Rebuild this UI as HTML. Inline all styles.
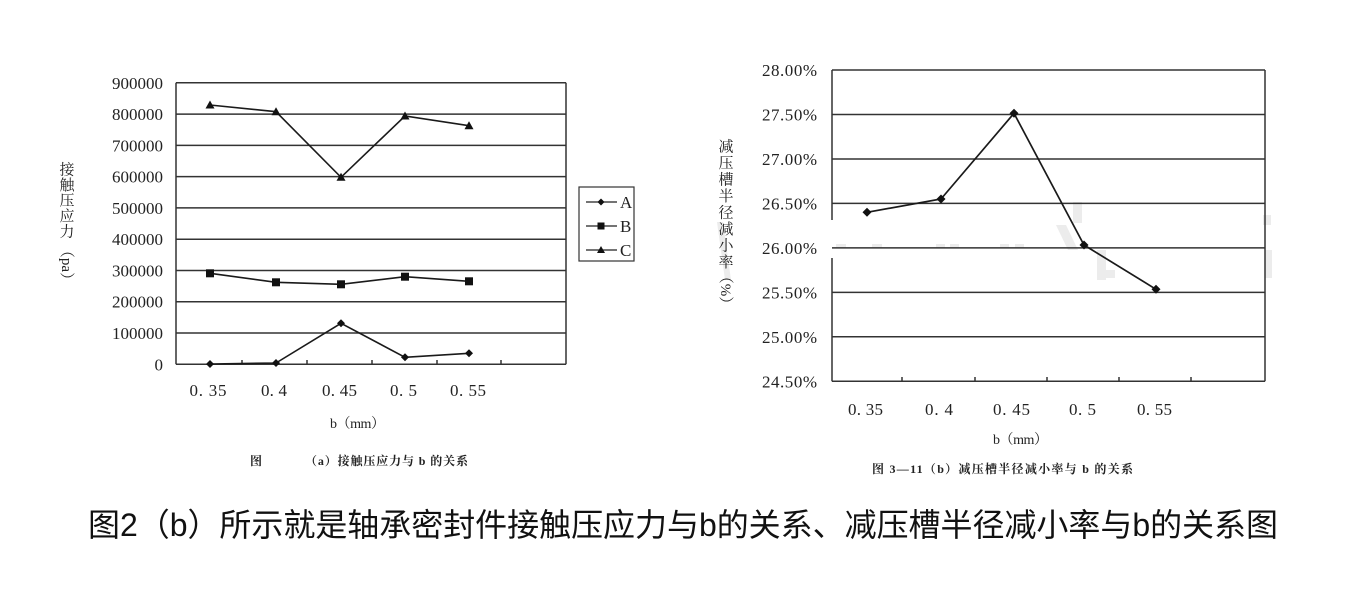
<!DOCTYPE html>
<html><head><meta charset="utf-8">
<style>
html,body{margin:0;padding:0;background:#fff;}
svg{display:block;}
.num{font-family:"Liberation Serif","Noto Serif CJK SC",serif;fill:#222;}
.cjk{font-family:"Liberation Serif","Noto Serif CJK SC",serif;fill:#222;}
</style></head>
<body>
<svg width="1365" height="590" viewBox="0 0 1365 590" xmlns="http://www.w3.org/2000/svg">
<rect width="1365" height="590" fill="#fff"/>

<!-- ================= LEFT CHART ================= -->
<g stroke="#333" stroke-width="1.5" fill="none">
  <line x1="176" y1="82.8" x2="566" y2="82.8"/>
  <line x1="176" y1="114.1" x2="566" y2="114.1"/>
  <line x1="176" y1="145.4" x2="566" y2="145.4"/>
  <line x1="176" y1="176.6" x2="566" y2="176.6"/>
  <line x1="176" y1="207.9" x2="566" y2="207.9"/>
  <line x1="176" y1="239.2" x2="566" y2="239.2"/>
  <line x1="176" y1="270.5" x2="566" y2="270.5"/>
  <line x1="176" y1="301.7" x2="566" y2="301.7"/>
  <line x1="176" y1="333" x2="566" y2="333"/>
  <line x1="176" y1="364.3" x2="566" y2="364.3"/>
  <line x1="176" y1="82.8" x2="176" y2="364.3"/>
  <line x1="566" y1="82.8" x2="566" y2="364.3"/>
  <line x1="242" y1="364" x2="242" y2="360"/>
  <line x1="307" y1="364" x2="307" y2="360"/>
  <line x1="372" y1="364" x2="372" y2="360"/>
  <line x1="437" y1="364" x2="437" y2="360"/>
  <line x1="501" y1="364" x2="501" y2="360"/>
</g>
<g stroke="#1a1a1a" stroke-width="1.6" fill="none">
  <polyline points="210,105 276,111.7 341,177.3 405,116 469,125.7"/>
  <polyline points="210,273.3 276,282.3 341,284.3 405,276.7 469,281.3"/>
  <polyline points="210,364 276,363 341,323.3 405,357.3 469,353.3"/>
</g>
<g fill="#111">
  <polygon points="210,100.5 214.5,108.5 205.5,108.5"/>
  <polygon points="276,107.2 280.5,115.2 271.5,115.2"/>
  <polygon points="341,172.8 345.5,180.8 336.5,180.8"/>
  <polygon points="405,111.5 409.5,119.5 400.5,119.5"/>
  <polygon points="469,121.2 473.5,129.2 464.5,129.2"/>
  <rect x="206" y="269.3" width="8" height="8"/>
  <rect x="272" y="278.3" width="8" height="8"/>
  <rect x="337" y="280.3" width="8" height="8"/>
  <rect x="401" y="272.7" width="8" height="8"/>
  <rect x="465" y="277.3" width="8" height="8"/>
  <polygon points="210,360 214,364 210,368 206,364"/>
  <polygon points="276,359 280,363 276,367 272,363"/>
  <polygon points="341,319.3 345,323.3 341,327.3 337,323.3"/>
  <polygon points="405,353.3 409,357.3 405,361.3 401,357.3"/>
  <polygon points="469,349.3 473,353.3 469,357.3 465,353.3"/>
</g>
<g class="num" font-size="17" text-anchor="end">
  <text x="163" y="88.8" textLength="51">900000</text>
  <text x="163" y="120.1" textLength="51">800000</text>
  <text x="163" y="151.4" textLength="51">700000</text>
  <text x="163" y="182.6" textLength="51">600000</text>
  <text x="163" y="213.9" textLength="51">500000</text>
  <text x="163" y="245.2" textLength="51">400000</text>
  <text x="163" y="276.5" textLength="51">300000</text>
  <text x="163" y="307.7" textLength="51">200000</text>
  <text x="163" y="339" textLength="51">100000</text>
  <text x="163" y="370.3">0</text>
</g>
<g class="num" font-size="17" text-anchor="middle">
  <text x="208" y="396" textLength="37">0. 35</text>
  <text x="274" y="396" textLength="26">0. 4</text>
  <text x="339.5" y="396" textLength="35">0. 45</text>
  <text x="403.5" y="396" textLength="27">0. 5</text>
  <text x="468" y="396" textLength="36">0. 55</text>
</g>
<g class="cjk" font-size="15" text-anchor="middle">
  <text x="67" y="174.5">接</text>
  <text x="67" y="190">触</text>
  <text x="67" y="205.5">压</text>
  <text x="67" y="221">应</text>
  <text x="67" y="236.5">力</text>
  <text transform="translate(62,265) rotate(90)" x="0" y="0" font-size="15">（pa）</text>
</g>
<text class="cjk" x="330" y="428" font-size="14" textLength="55">b（mm）</text>
<text class="cjk" x="250" y="465" font-size="12" font-weight="bold">图</text>
<text class="cjk" x="305" y="465" font-size="12" font-weight="bold" textLength="163">（a）接触压应力与 b 的关系</text>
<rect x="579" y="187" width="55" height="74" fill="#fff" stroke="#333" stroke-width="1.2"/>
<g stroke="#222" stroke-width="1.3">
  <line x1="586" y1="202" x2="617" y2="202"/>
  <line x1="586" y1="226" x2="617" y2="226"/>
  <line x1="586" y1="250" x2="617" y2="250"/>
</g>
<g fill="#111">
  <polygon points="601,198.5 604.5,202 601,205.5 597.5,202"/>
  <rect x="597.5" y="222.5" width="7" height="7"/>
  <polygon points="601,246 605,253 597,253"/>
</g>
<g class="num" font-size="17">
  <text x="620" y="208">A</text>
  <text x="620" y="232">B</text>
  <text x="620" y="256">C</text>
</g>

<!-- ================= RIGHT CHART ================= -->
<g fill="#ececec">
  <rect x="1073" y="202" width="9" height="21"/>
  <polygon points="1056,225 1066,225 1078,250 1068,250"/>
  <rect x="1097" y="250" width="9" height="30"/>
  <rect x="1097" y="270" width="18" height="8"/>
  <rect x="836" y="244" width="10" height="4"/>
  <rect x="872" y="244" width="10" height="4"/>
  <rect x="936" y="244" width="9" height="4"/>
  <rect x="950" y="244" width="9" height="4"/>
  <rect x="1000" y="244" width="9" height="4"/>
  <rect x="1015" y="244" width="9" height="4"/>
  <rect x="1263" y="215" width="8" height="10"/>
  <rect x="1265" y="250" width="7" height="28"/>
  <polygon points="717,222 723,222 731,280 725,280"/>
</g>
<g stroke="#333" stroke-width="1.5" fill="none">
  <line x1="832" y1="70" x2="1265" y2="70"/>
  <line x1="832" y1="114.5" x2="1265" y2="114.5"/>
  <line x1="832" y1="159" x2="1265" y2="159"/>
  <line x1="832" y1="203.4" x2="1265" y2="203.4"/>
  <line x1="832" y1="247.9" x2="1265" y2="247.9"/>
  <line x1="832" y1="292.4" x2="1265" y2="292.4"/>
  <line x1="832" y1="336.8" x2="1265" y2="336.8"/>
  <line x1="832" y1="381.3" x2="1265" y2="381.3"/>
  <line x1="832" y1="70" x2="832" y2="220"/>
  <line x1="832" y1="258" x2="832" y2="381.3"/>
  <line x1="1265" y1="70" x2="1265" y2="381.3"/>
  <line x1="902" y1="381" x2="902" y2="377"/>
  <line x1="975" y1="381" x2="975" y2="377"/>
  <line x1="1047" y1="381" x2="1047" y2="377"/>
  <line x1="1119" y1="381" x2="1119" y2="377"/>
  <line x1="1191" y1="381" x2="1191" y2="377"/>
</g>
<polyline points="867,212.3 941,199 1014,113.3 1084,245 1156,289.3" fill="none" stroke="#1a1a1a" stroke-width="1.7"/>
<g fill="#111">
  <polygon points="867,207.8 871.5,212.3 867,216.8 862.5,212.3"/>
  <polygon points="941,194.5 945.5,199 941,203.5 936.5,199"/>
  <polygon points="1014,108.8 1018.5,113.3 1014,117.8 1009.5,113.3"/>
  <polygon points="1084,240.5 1088.5,245 1084,249.5 1079.5,245"/>
  <polygon points="1156,284.8 1160.5,289.3 1156,293.8 1151.5,289.3"/>
</g>
<g class="num" font-size="17" text-anchor="end">
  <text x="817" y="76" textLength="55">28.00%</text>
  <text x="817" y="120.5" textLength="55">27.50%</text>
  <text x="817" y="165" textLength="55">27.00%</text>
  <text x="817" y="209.4" textLength="55">26.50%</text>
  <text x="817" y="253.9" textLength="55">26.00%</text>
  <text x="817" y="298.4" textLength="55">25.50%</text>
  <text x="817" y="342.8" textLength="55">25.00%</text>
  <text x="817" y="387.3" textLength="55">24.50%</text>
</g>
<g class="num" font-size="17" text-anchor="middle">
  <text x="865.5" y="415" textLength="35">0. 35</text>
  <text x="939" y="415" textLength="28">0. 4</text>
  <text x="1011.5" y="415" textLength="37">0. 45</text>
  <text x="1082.5" y="415" textLength="27">0. 5</text>
  <text x="1154.5" y="415" textLength="35">0. 55</text>
</g>
<g class="cjk" font-size="15" text-anchor="middle">
  <text x="726" y="151.5">减</text>
  <text x="726" y="168">压</text>
  <text x="726" y="184.5">槽</text>
  <text x="726" y="201">半</text>
  <text x="726" y="217.5">径</text>
  <text x="726" y="234">减</text>
  <text x="726" y="250.5">小</text>
  <text x="726" y="267">率</text>
  <text transform="translate(721,290) rotate(90)" x="0" y="0" font-size="15">（%）</text>
</g>
<text class="cjk" x="993" y="444" font-size="14" textLength="55">b（mm）</text>
<text class="cjk" x="872" y="473" font-size="12" font-weight="bold" textLength="261">图 3—11（b）减压槽半径减小率与 b 的关系</text>

<!-- ================= BIG CAPTION ================= -->
<text x="88" y="536" font-size="32" fill="#111" font-family="'Liberation Sans','Noto Sans CJK SC',sans-serif" textLength="1190" lengthAdjust="spacing">图2（b）所示就是轴承密封件接触压应力与b的关系、减压槽半径减小率与b的关系图</text>
</svg>
</body></html>
